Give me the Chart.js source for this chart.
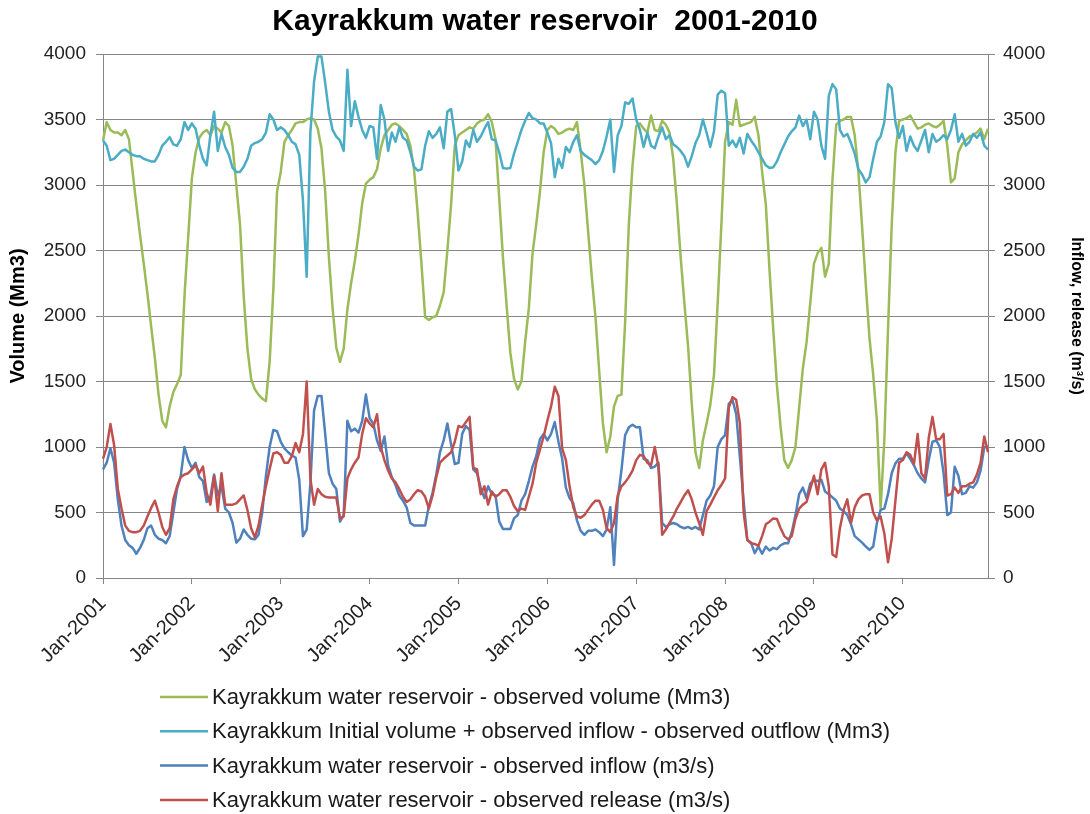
<!DOCTYPE html>
<html>
<head>
<meta charset="utf-8" />
<title>Kayrakkum water reservoir 2001-2010</title>
<style>
  html, body { margin: 0; padding: 0; background: #fff; }
</style>
</head>
<body>
<canvas id="chart" width="1090" height="814"></canvas>
<script src="https://cdn.jsdelivr.net/npm/chart.js@4.4.1/dist/chart.umd.min.js"></script>
<script>
// half-month steps, Jan-2001 .. Dec-2010
const years = [2001, 2002, 2003, 2004, 2005, 2006, 2007, 2008, 2009, 2010];
const stepsPerYear = 24;
const yearTicks = ['Jan-2001', 'Jan-2002', 'Jan-2003', 'Jan-2004', 'Jan-2005',
                   'Jan-2006', 'Jan-2007', 'Jan-2008', 'Jan-2009', 'Jan-2010'];
const monthNames = ['Jan','Feb','Mar','Apr','May','Jun','Jul','Aug','Sep','Oct','Nov','Dec'];

// observed volume (Mm3), left axis
const volume = [
  3340,3480,3420,3400,3400,3380,3420,3350,3100,2850,2620,2400,2170,1920,1680,1400,1200,1150,1310,1420,1480,1550,2150,2600,
  3050,3250,3360,3400,3420,3380,3450,3430,3400,3480,3450,3300,3000,2700,2150,1750,1520,1440,1400,1370,1350,1650,2200,2950,
  3100,3330,3380,3420,3470,3480,3480,3500,3510,3500,3430,3280,2950,2450,2060,1760,1650,1750,2050,2250,2420,2620,2860,3010,
  3040,3060,3120,3280,3380,3420,3460,3470,3450,3420,3390,3300,3120,2780,2400,1990,1970,1990,2000,2080,2180,2500,2850,3300,
  3380,3400,3420,3440,3430,3470,3490,3500,3540,3480,3350,2900,2450,2080,1720,1520,1440,1500,1800,2060,2480,2700,2950,3250,
  3420,3450,3430,3390,3400,3420,3430,3420,3480,3260,3000,2650,2300,1990,1580,1180,960,1080,1310,1390,1400,1950,2700,3150,
  3450,3470,3430,3400,3530,3420,3410,3490,3460,3400,3200,2850,2450,2100,1770,1330,960,840,1050,1180,1320,1550,2100,2700,
  3330,3480,3460,3650,3450,3460,3470,3480,3520,3380,3100,2850,2350,1900,1470,1150,900,840,900,1000,1300,1600,1800,2100,
  2400,2480,2520,2300,2400,3040,3460,3490,3500,3520,3520,3380,3100,2680,2240,1830,1550,1200,530,1050,1900,2700,3250,3490,
  3500,3510,3530,3480,3430,3440,3460,3470,3450,3440,3460,3490,3300,3020,3050,3250,3310,3340,3370,3380,3400,3430,3350,3430
];

// initial volume + observed inflow - observed outflow (Mm3), left axis
const balance = [
  3340,3300,3190,3200,3230,3260,3270,3250,3230,3220,3220,3200,3190,3180,3180,3230,3300,3330,3365,3310,3300,3350,3480,3420,
  3470,3430,3300,3200,3150,3380,3560,3260,3390,3290,3230,3130,3100,3100,3140,3200,3300,3320,3330,3350,3400,3540,3500,3420,
  3440,3420,3380,3330,3310,3230,2880,2300,3400,3790,3980,3980,3780,3560,3420,3370,3340,3260,3880,3450,3640,3520,3420,3360,
  3450,3440,3200,3610,3500,3260,3400,3330,3440,3360,3340,3250,3140,3110,3120,3300,3410,3360,3390,3440,3280,3560,3580,3380,
  3110,3180,3340,3290,3420,3330,3370,3430,3480,3350,3340,3250,3130,3125,3130,3240,3330,3420,3490,3550,3510,3500,3470,3470,
  3400,3320,3060,3200,3130,3290,3250,3330,3380,3260,3230,3210,3190,3160,3190,3260,3370,3500,3100,3380,3450,3630,3620,3660,
  3500,3420,3290,3400,3300,3280,3370,3440,3350,3380,3310,3290,3260,3220,3140,3220,3320,3380,3500,3400,3290,3410,3690,3720,
  3700,3300,3340,3290,3360,3240,3390,3340,3300,3250,3200,3150,3130,3135,3180,3250,3310,3370,3410,3440,3530,3450,3500,3350,
  3560,3500,3300,3200,3680,3770,3730,3420,3370,3390,3320,3240,3120,3080,3020,3060,3200,3330,3370,3480,3770,3740,3480,3360,
  3450,3260,3370,3300,3260,3340,3420,3250,3390,3330,3350,3380,3350,3420,3540,3330,3390,3300,3330,3390,3360,3400,3300,3270
];

// observed inflow (m3/s), right axis
const inflow = [
  830,880,990,880,600,400,290,250,230,185,230,290,380,400,330,300,290,265,320,500,680,780,1000,900,
  840,880,770,740,580,620,790,630,700,530,500,420,270,300,370,330,300,295,330,500,780,1000,1130,1120,
  1040,990,960,935,920,750,320,370,720,1280,1390,1390,1100,800,720,680,430,480,1200,1120,1140,1110,1200,1400,
  1220,1180,1050,970,1080,860,770,710,630,590,540,420,400,400,400,400,550,650,790,960,1050,1180,1020,870,
  880,1100,1160,1130,830,800,690,610,700,640,630,430,375,375,375,455,480,590,640,740,850,930,1060,1100,
  1050,1100,1190,1040,910,690,610,570,440,360,330,360,360,370,350,320,370,540,100,600,820,1090,1150,1170,
  1150,1150,910,900,840,850,880,420,390,410,420,410,390,380,390,375,390,370,480,590,630,700,1000,1060,
  1090,1330,1360,1250,920,590,290,270,190,240,185,240,210,230,220,250,265,265,350,480,640,690,610,720,
  750,740,750,660,640,615,590,530,510,480,410,320,295,270,240,215,240,420,520,530,640,800,875,910,
  910,950,910,860,800,760,730,900,1040,1050,1000,800,480,500,850,780,640,650,700,690,730,820,1000,1000
];

// observed release (m3/s), right axis
const release = [
  910,1000,1175,1015,680,530,400,360,350,350,360,400,470,535,590,500,390,330,380,600,700,770,790,800,
  830,860,800,850,650,560,780,510,800,560,560,560,570,600,630,520,380,310,400,560,700,830,950,960,
  940,880,880,930,1030,960,1100,1500,760,560,680,640,620,615,615,615,455,470,760,830,880,920,1100,1220,
  1180,1150,1250,1000,900,820,760,730,680,620,580,600,640,670,660,620,530,630,770,880,910,935,960,1040,
  1160,1150,1190,1230,840,830,640,700,560,660,620,640,670,670,620,550,510,530,520,620,720,880,980,1080,
  1200,1310,1460,1390,990,900,700,540,470,460,480,520,560,590,590,520,380,350,420,630,700,730,770,820,
  900,940,930,880,860,1000,850,330,370,420,470,530,580,630,670,600,500,420,330,510,560,615,670,710,
  760,1300,1380,1360,1180,500,290,265,260,245,320,410,430,455,450,380,320,295,320,450,530,560,580,680,
  780,640,830,880,700,180,160,380,520,600,420,540,600,630,640,640,500,440,470,340,120,300,590,880,
  900,960,940,870,1100,800,760,1070,1230,1060,1060,1100,630,640,690,650,700,700,720,730,790,880,1080,960
];

const labels = [];
years.forEach(y => {
  for (let k = 0; k < stepsPerYear; k++) {
    labels.push(monthNames[Math.floor(k / 2)] + '-' + y + (k % 2 ? ' (2)' : ' (1)'));
  }
});

const FONT = '"Liberation Sans", Arial, sans-serif';
const GRID = '#868686';

// legend drawn as one entry per row, like the Excel original
const rowLegend = {
  id: 'rowLegend',
  afterDraw(chart) {
    const ctx = chart.ctx;
    ctx.save();
    ctx.font = '22px ' + FONT;
    ctx.textBaseline = 'middle';
    ctx.textAlign = 'left';
    chart.data.datasets.forEach((ds, i) => {
      const y = 697 + i * 34.3;
      ctx.strokeStyle = ds.borderColor;
      ctx.lineWidth = 2.5;
      ctx.beginPath();
      ctx.moveTo(160, y);
      ctx.lineTo(208, y);
      ctx.stroke();
      ctx.fillStyle = '#1a1a1a';
      ctx.fillText(ds.label, 212, y + 1);
    });
    ctx.restore();
  }
};

const plainTick = v => String(v);

new Chart(document.getElementById('chart'), {
  type: 'line',
  data: {
    labels: labels,
    datasets: [
      { label: 'Kayrakkum water reservoir - observed volume (Mm3)', data: volume,
        borderColor: '#9bbb59', yAxisID: 'y', order: 4 },
      { label: 'Kayrakkum Initial volume + observed inflow - observed outflow (Mm3)', data: balance,
        borderColor: '#4bacc6', yAxisID: 'y', order: 3 },
      { label: 'Kayrakkum water reservoir - observed inflow (m3/s)', data: inflow,
        borderColor: '#4f81bd', yAxisID: 'y1', order: 2 },
      { label: 'Kayrakkum water reservoir - observed release (m3/s)', data: release,
        borderColor: '#c0504d', yAxisID: 'y1', order: 1 }
    ]
  },
  options: {
    responsive: false,
    animation: false,
    devicePixelRatio: 1,
    layout: { padding: { top: 0, right: 0, bottom: 146, left: 0 } },
    elements: {
      point: { radius: 0 },
      line: { borderWidth: 2.5, tension: 0, borderJoinStyle: 'round', fill: false }
    },
    plugins: {
      legend: { display: false },
      tooltip: { enabled: false },
      title: {
        display: true,
        text: 'Kayrakkum water reservoir  2001-2010',
        color: '#000',
        font: { family: FONT, size: 30, weight: 'bold' },
        padding: { top: 4, bottom: 14 }
      }
    },
    scales: {
      x: {
        type: 'category',
        offset: false,
        afterFit: s => { s.height = 90; },
        afterBuildTicks: s => { s.ticks = s.ticks.filter(t => t.value % stepsPerYear === 0); },
        grid: { drawOnChartArea: false, drawTicks: true, tickLength: 6, color: GRID },
        border: { display: true, color: GRID, width: 1 },
        ticks: {
          autoSkip: false,
          maxRotation: 45,
          minRotation: 45,
          padding: 8,
          color: '#222',
          font: { family: FONT, size: 20 },
          callback: function (value) { return yearTicks[value / stepsPerYear]; }
        }
      },
      y: {
        position: 'left',
        min: 0, max: 4000,
        afterFit: s => { s.width = 103; },
        ticks: { stepSize: 500, color: '#222', padding: 10, font: { family: FONT, size: 19 }, callback: plainTick },
        grid: { color: GRID, tickLength: 7 },
        border: { display: true, color: GRID },
        title: { display: true, text: 'Volume (Mm3)', color: '#000',
                 font: { family: FONT, size: 20, weight: 'bold' }, padding: { top: 6, bottom: 0 } }
      },
      y1: {
        position: 'right',
        min: 0, max: 4000,
        afterFit: s => { s.width = 102; },
        ticks: { stepSize: 500, color: '#222', padding: 8, font: { family: FONT, size: 19 }, callback: plainTick },
        grid: { drawOnChartArea: false, color: GRID, tickLength: 7 },
        border: { display: true, color: GRID },
        title: { display: true, text: 'Inflow, release (m³/s)', color: '#000',
                 font: { family: FONT, size: 16, weight: 'bold' }, padding: { top: 4, bottom: 0 } }
      }
    }
  },
  plugins: [rowLegend]
});
</script>
</body>
</html>
